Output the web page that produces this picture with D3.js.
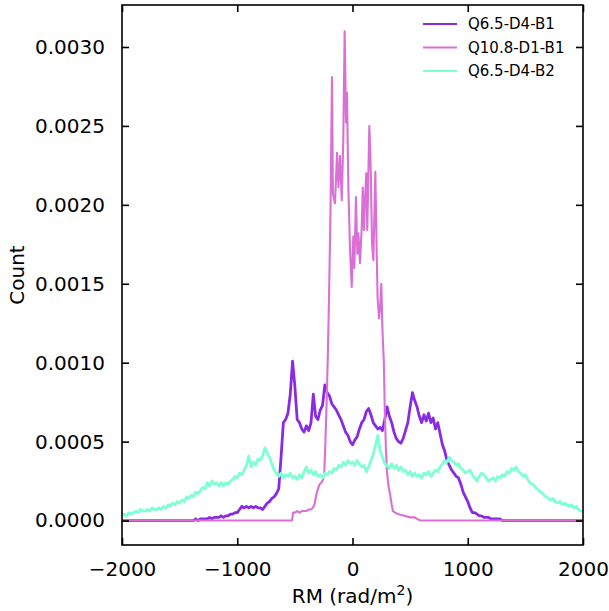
<!DOCTYPE html>
<html><head><meta charset="utf-8">
<script src="https://cdn.jsdelivr.net/npm/d3@7/dist/d3.min.js"></script>
<style>
body{margin:0;background:#fff}
svg{display:block}
text{font-family:"DejaVu Sans",sans-serif;fill:#000}
</style>
</head><body>
<svg id="chart" width="609" height="611"></svg>
<script>
// ---------------- DATA ----------------
const seriesNames = ["Q6.5-D4-B1", "Q10.8-D1-B1", "Q6.5-D4-B2"];
const seriesColors = ["#8a2be2", "#da70d6", "#7fffd4"];
const xTickValues = [-2000, -1000, 0, 1000, 2000];
const yTickValues = [0, 0.0005, 0.0010, 0.0015, 0.0020, 0.0025, 0.0030];
const COUNT_UNIT = 1e-5; // values below are written in units of 1e-5

// Q6.5-D4-B1 : RM grid -1400..1300 step 20 (zero outside)
const rmB1 = d3.range(-1400, 1301, 20);
const countB1 = [
  0,0,1,0,1,1,1,1,2,1,2,2,2,3,2,3,3,4,4,5,
  5,7,9,8,9,8,9,8,9,8,8,7,9,11,12,14,15,17,20,40,
  62,64,68,80,101,85,64,62,58,56,60,57,62,80,66,64,70,73,86,81,
  79,74,72,70,67,64,60,56,54,50,48,51,53,58,62,64,69,71,67,62,
  60,58,59,57,64,72,66,62,56,52,50,49,52,57,62,72,81,76,72,66,
  62,67,63,68,62,65,58,62,55,48,44,38,35,32,30,28,27,23,18,15,
  12,8,5,5,4,3,3,2,2,2,1,1,1,1,1,0
].map(v => v * COUNT_UNIT);

// Q10.8-D1-B1 : irregular RM samples
const rmB1b = [-2000,-525,-515,-500,-480,-460,-440,-420,-400,-380,-360,-345,-330,-315,-300,-285,-270,-255,-245,-235,
  -224,-214,-204,-190,-178,-170,-152,-134,-122,-108,-93,-80,-68,-56,-48,-36,-22,-7,7,16,
  30,42,51,65,80,89,100,108,120,128,146,158,169,181,198,210,218,230,240,250,
  258,265,272,280,290,300,312,325,340,351,370,400,450,500,540,560,590,2000];
const countB1b = [0,0,5,5,6,5,6,6,6,7,7,8,10,16,20,23,24,26,30,50,
  76,105,140,200,281,207,201,233,211,231,203,241,310,252,271,211,173,148,180,160,
  205,169,182,163,186,211,184,203,220,184,250,224,176,165,221,169,141,128,135,150,
  125,112,100,70,45,30,22,17,10,6,5,4,3,2,2,1,0,0].map(v => v * COUNT_UNIT);

// Q6.5-D4-B2 : RM grid -2000..2000 step 20
const rmB2 = d3.range(-2000, 2001, 20);
const countB2 = [
  3,4,3,5,4,5,6,5,7,6,6,7,6,8,7,7,8,7,9,8,
  10,9,11,10,12,11,13,12,15,14,16,15,18,17,19,21,20,24,22,25,
  23,24,22,24,22,24,23,25,26,28,27,30,29,32,35,41,34,37,35,39,
  38,41,46,43,40,36,32,30,28,30,27,29,28,30,27,28,26,29,27,31,
  34,30,32,29,31,28,29,27,30,29,31,30,33,32,35,34,37,35,38,36,
  37,35,38,36,34,35,31,34,38,42,48,54,44,40,36,35,33,36,33,35,
  32,34,31,32,29,31,28,30,28,29,27,30,29,31,28,30,32,31,34,36,
  38,37,40,38,37,35,36,33,32,30,31,32,29,27,25,28,30,29,27,25,
  26,27,25,28,27,29,28,31,30,33,32,34,31,30,28,29,26,24,23,22,
  20,19,18,16,15,14,13,14,12,11,12,10,11,10,9,10,8,9,7,6,
  6
].map(v => v * COUNT_UNIT);

// ---------------- CHART ----------------
const M = {left: 122, right: 583, top: 5, bottom: 545};
const svg = d3.select("#chart");

const x = d3.scaleLinear().domain([-2000, 2000]).range([M.left, M.right]);
const y = d3.scaleLinear().domain([-0.000155, 0.003266]).range([M.bottom, M.top]);

svg.append("defs").append("clipPath").attr("id", "clip")
  .append("rect").attr("x", M.left).attr("y", M.top)
  .attr("width", M.right - M.left).attr("height", M.bottom - M.top);

function toPts(rm, c, padZero) {
  const n = Math.min(rm.length, c.length);
  const pts = [];
  if (padZero) pts.push([-2000, 0]);
  for (let i = 0; i < n; i++) pts.push([rm[i], c[i]]);
  if (padZero) pts.push([2000, 0]);
  return pts;
}
const data = [
  toPts(rmB1, countB1, true),
  toPts(rmB1b, countB1b, false),
  toPts(rmB2, countB2, false)
];
const lineWidths = [2.8, 2.1, 2.8];

const line = d3.line().x(d => x(d[0])).y(d => y(d[1]));
const g = svg.append("g").attr("clip-path", "url(#clip)");
data.forEach((pts, i) => {
  g.append("path").datum(pts).attr("d", line)
    .attr("fill", "none").attr("stroke", seriesColors[i])
    .attr("stroke-width", lineWidths[i]).attr("stroke-linejoin", "round");
});

// Axes (ticks inward on all four sides)
const fmtX = d => d3.format("d")(d).replace("-", "\u2212");
const fmtY = d3.format(".4f");
const tl = 7;
const axB = svg.append("g").attr("transform", `translate(0,${M.bottom})`)
  .call(d3.axisBottom(x).tickValues(xTickValues).tickSize(-tl).tickPadding(tl + 10).tickFormat(fmtX));
const axT = svg.append("g").attr("transform", `translate(0,${M.top})`)
  .call(d3.axisTop(x).tickValues(xTickValues).tickSize(-tl).tickFormat(""));
const axL = svg.append("g").attr("transform", `translate(${M.left},0)`)
  .call(d3.axisLeft(y).tickValues(yTickValues).tickSize(-tl).tickPadding(tl + 10).tickFormat(fmtY));
const axR = svg.append("g").attr("transform", `translate(${M.right},0)`)
  .call(d3.axisRight(y).tickValues(yTickValues).tickSize(-tl).tickFormat(""));
[axB, axT, axL, axR].forEach(a => {
  a.select(".domain").remove();
  a.selectAll(".tick line").attr("stroke", "#000").attr("stroke-width", 1.6);
  a.selectAll(".tick text").attr("font-size", 20).attr("font-family", "DejaVu Sans").attr("fill", "#000");
});
axB.selectAll(".tick text").attr("dy", "0.71em");

svg.append("rect").attr("x", M.left).attr("y", M.top)
  .attr("width", M.right - M.left).attr("height", M.bottom - M.top)
  .attr("fill", "none").attr("stroke", "#000").attr("stroke-width", 1.6);

// Axis labels
const xl = svg.append("text").attr("x", (M.left + M.right) / 2).attr("y", 603)
  .attr("text-anchor", "middle").attr("font-size", 20);
xl.append("tspan").text("RM (rad/m");
xl.append("tspan").attr("font-size", 14).attr("dy", -8).text("2");
xl.append("tspan").attr("dy", 8).text(")");

svg.append("text").attr("transform", `translate(24,${(M.top + M.bottom) / 2}) rotate(-90)`)
  .attr("text-anchor", "middle").attr("font-size", 20).text("Count");

// Legend
const lg = svg.append("g");
seriesNames.forEach((name, i) => {
  const yy = 24 + i * 23.5;
  lg.append("line").attr("x1", 423).attr("x2", 457).attr("y1", yy).attr("y2", yy)
    .attr("stroke", seriesColors[i]).attr("stroke-width", 2.1);
  lg.append("text").attr("x", 468).attr("y", yy).attr("dy", "0.36em")
    .attr("font-size", 15).text(name);
});
</script>
</body></html>
